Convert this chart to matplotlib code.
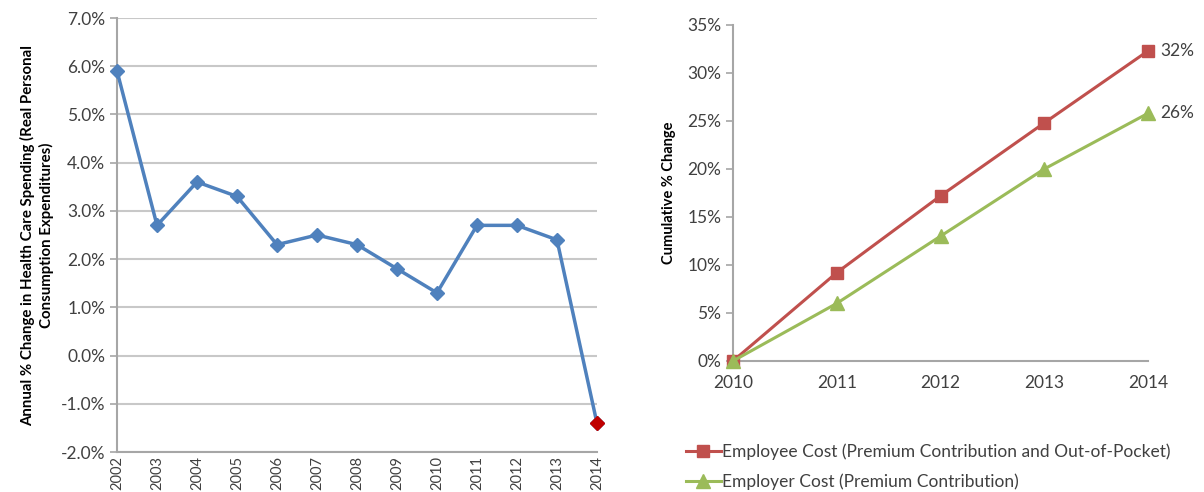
import numpy as np
import matplotlib
matplotlib.use('Agg')
import matplotlib.pyplot as plt
from matplotlib.ticker import FuncFormatter

plt.rcParams['font.family'] = ['Lato', 'DejaVu Sans']

# Left panel data
years_left = ['2002', '2003', '2004', '2005', '2006', '2007', '2008',
              '2009', '2010', '2011', '2012', '2013', '2014']
spending = [5.9, 2.7, 3.6, 3.3, 2.3, 2.5, 2.3, 1.8, 1.3, 2.7, 2.7, 2.4, -1.4]

# Right panel data
years_right = ['2010', '2011', '2012', '2013', '2014']
employee_cost = [0.0, 9.2, 17.2, 24.8, 32.3]
employer_cost = [0.0, 6.0, 13.0, 20.0, 25.8]

blue = '#4f81bd'
red = '#c0504d'
green = '#9bbb59'
gray = '#a6a6a6'
txt = '#404040'

fig = plt.figure(figsize=(12.04, 4.92), dpi=100)

# ---- left chart
ax1 = fig.add_axes([0.0972, 0.0813, 0.3986, 0.8821])
x1 = np.arange(len(years_left))
ax1.plot(x1, spending, color=blue, lw=2.5, marker='D', ms=7, zorder=3, clip_on=False)
ax1.plot(x1[-1], spending[-1], marker='D', ms=7, color='#c00000', zorder=4, clip_on=False)
ax1.set_xlim(0, 12)
ax1.set_ylim(-2, 7)
ax1.set_yticks(np.arange(-2, 7.1, 1))
ax1.yaxis.set_major_formatter(FuncFormatter(lambda v, p: f'{v:.1f}%'))
ax1.set_xticks(x1)
ax1.set_xticklabels(years_left, rotation=90)
ax1.grid(axis='y', color='#c8c8c8', lw=1.5)
ax1.set_axisbelow(True)
for s in ['top', 'right']:
    ax1.spines[s].set_visible(False)
for s in ['left', 'bottom']:
    ax1.spines[s].set_color(gray)
    ax1.spines[s].set_linewidth(1.5)
ax1.tick_params(axis='y', colors=gray, labelcolor=txt, labelsize=12.5, length=5, width=1.2)
ax1.tick_params(axis='x', length=0, labelcolor=txt, labelsize=10.5, pad=3)
ax1.set_ylabel('Annual % Change in Health Care Spending (Real Personal\nConsumption Expenditures)',
               fontsize=10.8, fontweight='bold', color='black', labelpad=5, linespacing=1.3)

# ---- right chart
ax2 = fig.add_axes([0.6088, 0.2663, 0.3447, 0.6829])
x2 = np.arange(len(years_right))
ax2.plot(x2, employee_cost, color=red, lw=2.2, marker='s', ms=9, clip_on=False, zorder=3,
         label='Employee Cost (Premium Contribution and Out-of-Pocket)')
ax2.plot(x2, employer_cost, color=green, lw=2.2, marker='^', ms=10, clip_on=False, zorder=3,
         label='Employer Cost (Premium Contribution)')
ax2.text(x2[-1] + 0.12, employee_cost[-1], '32%', fontsize=12.5, color=txt, va='center')
ax2.text(x2[-1] + 0.12, employer_cost[-1], '26%', fontsize=12.5, color=txt, va='center')
ax2.set_xlim(0, 4)
ax2.set_ylim(0, 35)
ax2.set_yticks(np.arange(0, 36, 5))
ax2.yaxis.set_major_formatter(FuncFormatter(lambda v, p: f'{v:.0f}%'))
ax2.set_xticks(x2)
ax2.set_xticklabels(years_right)
for s in ['top', 'right']:
    ax2.spines[s].set_visible(False)
for s in ['left', 'bottom']:
    ax2.spines[s].set_color(gray)
    ax2.spines[s].set_linewidth(1.5)
ax2.tick_params(axis='y', colors=gray, labelcolor=txt, labelsize=12.5, length=5, width=1.2)
ax2.tick_params(axis='x', length=0, labelcolor=txt, labelsize=12.5, pad=10)
ax2.set_ylabel('Cumulative % Change', fontsize=10.5, fontweight='bold',
               color='black', labelpad=8)
ax2.legend(loc='upper left', bbox_to_anchor=(-0.13, -0.225), frameon=False, fontsize=12.5,
           handlelength=2.0, handletextpad=0.1, labelspacing=0.75, borderaxespad=0,
           labelcolor=txt)

fig.savefig('out.png', dpi=100)
